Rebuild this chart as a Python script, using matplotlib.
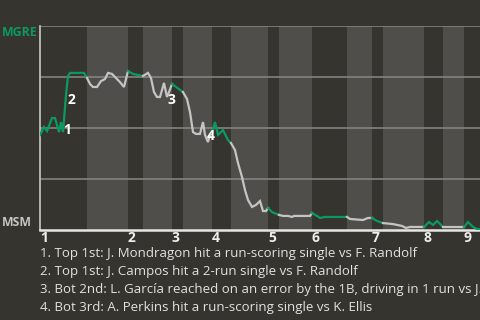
import numpy as np
import matplotlib.pyplot as plt

# Win probability for MGRE (percent)
prog = [0, 4, 7, 12, 15, 19, 21, 23, 26, 28, 30, 44, 47, 50, 53, 57, 61, 65, 68, 72,
        76, 80, 84, 88, 93, 98, 103, 108, 111, 114, 117, 120, 122, 124, 127, 129, 132,
        143, 147, 150, 153, 156, 160, 163, 165, 168, 170, 172, 175, 178, 183, 188, 191,
        195, 198, 202, 205, 208, 212, 216, 220, 223, 226, 228, 232, 237, 239, 243, 248,
        252, 254, 258, 265, 270, 272, 277, 280, 285, 307, 310, 323, 328, 332, 337, 343,
        353, 357, 362, 366, 370, 384, 389, 393, 397, 403, 424, 428, 433, 437, 440]
wp = [46.6, 50.5, 48.5, 54.9, 54.9, 48.0, 52.9, 48.0, 66.2, 75.5, 77.0, 77.0, 74.5,
      71.6, 70.1, 70.1, 73.0, 74.0, 77.0, 76.5, 74.5, 72.5, 70.1, 77.9, 76.5, 76.0,
      75.5, 77.0, 74.5, 67.6, 65.2, 65.2, 68.6, 72.1, 65.2, 67.6, 71.6, 67.6, 64.2,
      57.8, 48.0, 47.1, 47.1, 52.9, 46.6, 43.1, 46.6, 47.5, 52.9, 46.6, 49.0, 44.1,
      42.6, 39.2, 32.8, 26.0, 19.6, 14.7, 11.3, 12.3, 14.2, 9.3, 9.3, 10.8, 8.8, 7.8,
      7.4, 6.9, 6.9, 6.4, 6.9, 6.9, 6.9, 6.9, 8.3, 6.9, 5.9, 6.4, 6.4, 5.4, 4.9, 5.9,
      5.9, 4.4, 3.4, 2.9, 2.5, 2.0, 1.0, 1.5, 1.5, 3.9, 2.5, 4.4, 1.5, 1.5, 3.9, 1.5,
      0.5, 0.5]

# half-inning boundaries (top halves = MGRE batting)
halves = [0, 47, 88, 103, 132, 143, 172, 191, 228, 239, 272, 307, 332, 343, 384, 403, 424, 460]
inning_labels = ["1", "2", "3", "4", "5", "6", "7", "8", "9"]

event_num = ["1", "2", "3", "4"]
event_x = [27, 31, 131, 171]
event_y = [49, 63.5, 63.5, 46]
event_text = [
    "1. Top 1st: J. Mondragon hit a run-scoring single vs F. Randolf",
    "2. Top 1st: J. Campos hit a 2-run single vs F. Randolf",
    "3. Bot 2nd: L. García reached on an error by the 1B, driving in 1 run vs J. Ellis",
    "4. Bot 3rd: A. Perkins hit a run-scoring single vs K. Ellis",
]

bg = "#36342f"
band = "#504e4b"
green = "#0b9a5e"
gray = "#c4c4c4"

plt.rcParams['font.family'] = ['Open Sans', 'DejaVu Sans']

fig = plt.figure(figsize=(4.8, 3.2), dpi=100, facecolor=bg)
ax = fig.add_axes([40 / 480, 90 / 320, 440 / 480, 204 / 320])
ax.set_facecolor(bg)

x = np.array(prog)
y = np.array(wp)

for i in range(len(halves) - 1):
    a, b = halves[i], halves[i + 1]
    if i % 2 == 1:
        ax.axvspan(a, b, color=band, lw=0, zorder=0)
    m = (x >= a) & (x <= b)
    ax.plot(x[m], y[m], color=green if i % 2 == 0 else gray, lw=1.6, zorder=3,
            solid_joinstyle='miter')

for yy in [25, 50, 75, 100]:
    ax.axhline(yy, color="#8a8885", lw=1.1, zorder=1)

for n, ex, ey in zip(event_num, event_x, event_y):
    ax.text(ex, ey, n, color="white", fontsize=10, fontweight="bold",
            ha="center", va="center", zorder=4)

ax.set_xlim(0, 440)
ax.set_ylim(0, 100)
for s in ["top", "right"]:
    ax.spines[s].set_visible(False)
ax.spines["left"].set_color("#c8c8c8")
ax.spines["left"].set_linewidth(1.2)
ax.spines["bottom"].set_color("#e6e6e6")
ax.spines["bottom"].set_linewidth(1.8)
ax.set_yticks([])
ax.set_xticks(halves[0:18:2])
ax.set_xticklabels(inning_labels, fontsize=10, fontweight="bold", color="#eeeeee", ha="left")
ax.tick_params(axis="x", length=0, pad=1)

fig.text(2 / 480, 1 - 33 / 320, "MGRE", color=green, fontsize=8.8, fontweight="bold", va="center")
fig.text(2 / 480, 1 - 222 / 320, "MSM", color="#c4c4c4", fontsize=8.8, fontweight="bold", va="center")

for i, t in enumerate(event_text):
    fig.text(40 / 480, 1 - (254 + 18 * i) / 320, t, color="#e2e2e2", fontsize=9.5, va="center")

fig.savefig("out.png", dpi=100, facecolor=bg)
